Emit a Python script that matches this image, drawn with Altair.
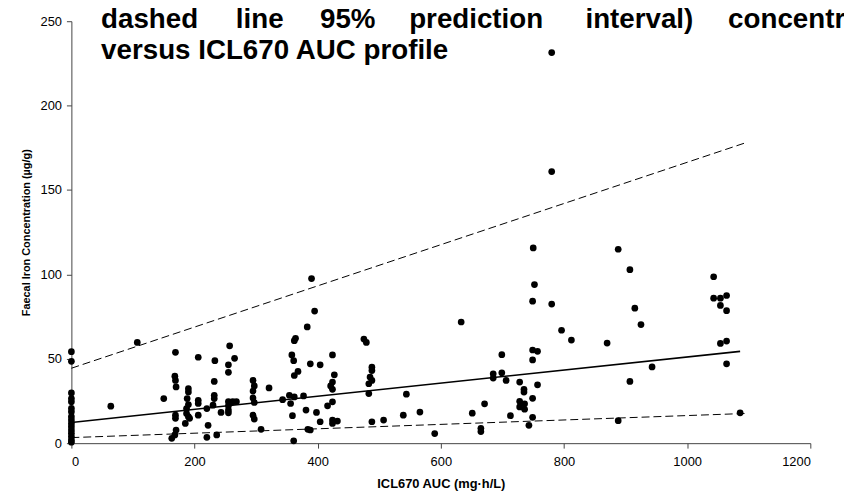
import altair as alt
import pandas as pd

# ---- data ----
auc = [0]*16 + [
    64, 107, 150, 169, 168, 169, 170, 169, 169, 170, 163, 168, 185, 190, 190,
    188, 190, 187, 187, 190, 192, 206, 206, 206, 206, 220, 222, 220,
    233, 232, 232, 232, 230, 236, 243,
    255, 255, 257, 255, 255, 255, 255, 265, 262, 268,
    295, 297, 295, 295, 297, 295, 297, 308, 321, 343, 354, 356, 359,
    362, 364, 358, 361, 362, 368, 361, 362,
    377, 381, 383, 395, 388, 384, 388, 390,
    398, 404, 404, 416, 424, 427, 424, 421, 424, 424, 424, 424, 432,
    475, 479, 488, 488, 485, 488, 483, 483, 488,
    507, 539, 544, 566, 590, 633, 651, 665, 665, 671,
    685, 685, 699, 699, 706, 713, 728, 735, 735, 728, 736, 728, 736,
    749, 780, 749, 757, 749, 757, 749, 749, 743, 750, 752,
    780, 780, 796, 812,
    888, 907, 915, 925, 870, 943, 907, 888,
    1043, 1043, 1054, 1064, 1054, 1064, 1054, 1064, 1064, 1086,
]
iron = [54.2, 48.5, 29.8, 26.4, 24.5, 20.6, 18.6, 15.7, 13.7, 11.7, 9.8, 7.8,
        5.9, 3.9, 1.9, 0.6] + [
    21.9, 59.7, 26.4, 53.8, 39.7, 37.2, 33.3, 16.6, 14.7, 7.8, 2.9, 4.9, 11.7, 32.3, 30.3,
    26.4, 22.9, 20.5, 17.6, 15.7, 14.7, 50.9, 25.4, 23.5, 16.6, 20.5, 10.6, 3.5,
    48.9, 36.6, 28.4, 26.4, 22.5, 4.9, 18.2,
    46.4, 42.0, 57.7, 24.6, 22.1, 19.6, 18.0, 50.3, 24.6, 24.6,
    37.2, 33.9, 30.9, 26.8, 24.1, 16.6, 14.3, 8.2, 32.7, 25.8, 28.4, 23.5, 16.3,
    60.7, 62.1, 52.3, 48.9, 40.1, 42.5, 1.4, 27.4,
    28.0, 19.6, 68.9, 78.3, 47.0, 8.2, 7.8, 97.5,
    18.2, 46.4, 12.7, 22.1, 52.3, 40.5, 36.2, 33.9, 31.9, 24.5, 13.7, 11.7, 13.1,
    61.7, 59.7, 45.0, 43.0, 39.2, 37.2, 35.2, 29.4, 12.7,
    13.7, 16.6, 29.0, 18.4, 5.7, 71.8, 17.8, 8.8, 6.9, 23.3,
    41.1, 38.6, 52.4, 41.7, 37.2, 16.3, 36.2, 31.9, 30.3, 24.8, 23.3, 21.5, 20.1,
    84.1, 82.4, 55.2, 54.4, 49.3, 34.6, 26.6, 15.3, 10.6, 115.7, 94.0,
    231.4, 160.9, 66.9, 61.1,
    114.9, 102.8, 80.0, 70.3, 59.3, 45.2, 36.6, 13.3,
    98.6, 85.9, 85.9, 87.5, 81.6, 78.5, 59.1, 60.5, 47.0, 18.0,
]

fit_x = [0, 1086]
fit_y = [12.3, 54.4]
pi_x = [0, 1095]
pi_upper = [44.4, 178.0]
pi_lower = [3.3, 17.6]

title_line1 = ["dashed", "line", "95%", "prediction", "interval)", "concentration"]
title_line2 = "versus ICL670 AUC profile"
x_title = "ICL670 AUC (mg·h/L)"
y_title = "Faecal Iron Concentration (µg/g)"
x_ticks = [0, 200, 400, 600, 800, 1000, 1200]
y_ticks = [0, 50, 100, 150, 200, 250]

# ---- build tables ----
pts = pd.DataFrame({"auc": auc, "iron": iron})
fit = pd.DataFrame({"auc": fit_x, "iron": fit_y})
pi = pd.DataFrame({
    "auc": pi_x * 2,
    "iron": pi_upper + pi_lower,
    "band": ["upper"] * 2 + ["lower"] * 2,
})

FONT = "Liberation Sans"
xscale = alt.Scale(domain=[0, 1200], nice=False, zero=False)
yscale = alt.Scale(domain=[0, 250], nice=False, zero=False)

xenc = alt.X("auc:Q", scale=xscale, axis=alt.Axis(
    title=x_title, values=x_ticks, format="d", grid=False, tickSize=5, labelPadding=8,
    labelFontSize=13, labelFont=FONT, labelColor="#000",
    titleFont=FONT, titleFontSize=13, titleFontWeight="bold", titleColor="#000",
    titlePadding=9, domainColor="#444", tickColor="#444"))
yenc = alt.Y("iron:Q", scale=yscale, axis=alt.Axis(
    title=y_title, values=y_ticks, format="d", grid=False, tickSize=5, labelPadding=5,
    labelFontSize=13, labelFont=FONT, labelColor="#000",
    titleFont=FONT, titleFontSize=11, titleFontWeight="bold", titleColor="#000",
    titlePadding=9, domainColor="#444", tickColor="#444"))

points = alt.Chart(pts).mark_circle(size=46, color="#000", opacity=1).encode(x=xenc, y=yenc)
fit_line = alt.Chart(fit).mark_line(color="#000", strokeWidth=1.6).encode(x="auc:Q", y="iron:Q")
pi_lines = alt.Chart(pi).mark_line(color="#000", strokeWidth=1, strokeDash=[8, 4]).encode(
    x="auc:Q", y="iron:Q", detail="band:N")

# title words (page x start positions -> plot coords: minus 8 margin, minus 64 padding)
word_x = [102, 238, 323, 413, 591, 735]
title_layers = []
for w, px in zip(title_line1, word_x):
    title_layers.append(
        alt.Chart(pd.DataFrame({"t": [w]})).mark_text(
            font=FONT, fontSize=28, fontWeight="bold", align="left", baseline="alphabetic",
            color="#000").encode(text="t:N", x=alt.value(px - 72), y=alt.value(7)))
title_layers.append(
    alt.Chart(pd.DataFrame({"t": [title_line2]})).mark_text(
        font=FONT, fontSize=28, fontWeight="bold", align="left", baseline="alphabetic",
        color="#000").encode(text="t:N", x=alt.value(102 - 72), y=alt.value(38)))

chart = alt.layer(pi_lines, fit_line, points, *title_layers).properties(
    width=746, height=426,
    autosize=alt.AutoSizeParams(type="none"),
    padding={"left": 64, "top": 11, "right": 34, "bottom": 52},
    background="white",
).configure_view(stroke=None)

chart.save("out.html", embed_options={"renderer": "svg", "actions": False})
